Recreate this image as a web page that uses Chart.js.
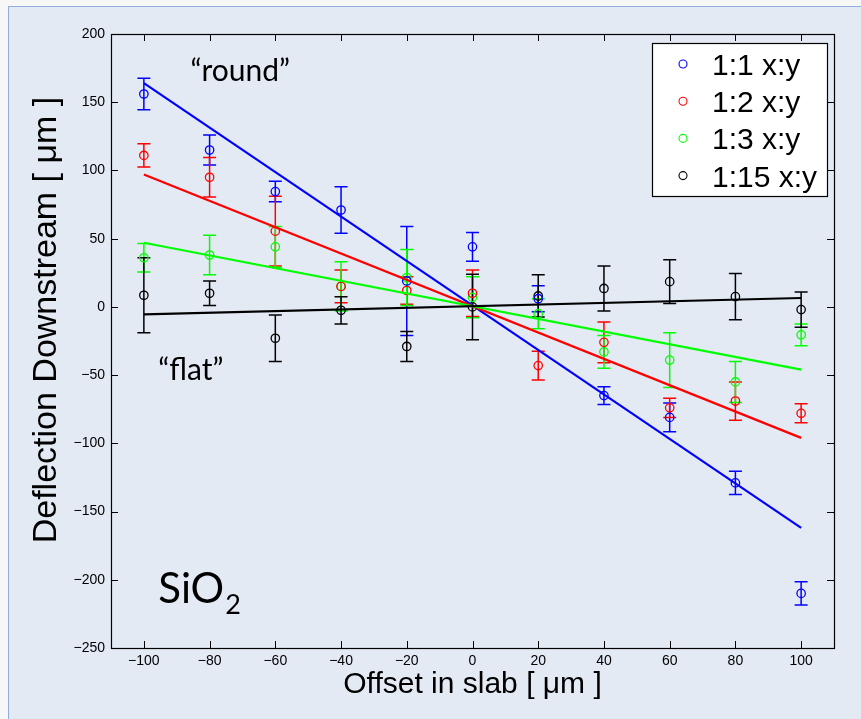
<!DOCTYPE html>
<html>
<head>
<meta charset="utf-8">
<script src="https://cdn.jsdelivr.net/npm/chart.js@4.4.1/dist/chart.umd.min.js"></script>
<style>
  html, body { margin: 0; padding: 0; background: #f7f7f7; overflow: hidden; }
  #panel {
    position: absolute; left: 8px; top: 6px; width: 900px; height: 760px;
    background: #e3eaf4; border: 1.5px solid #8eaedb;
  }
  #wrap { position: absolute; left: 0; top: 0; width: 861px; height: 719px; }
</style>
</head>
<body>
<div id="panel"></div>
<div id="wrap"><canvas id="deflChart" width="861" height="719"></canvas></div>
<script>
// offsets in the slab (µm)
var offsets = [-100, -80, -60, -40, -20, 0, 20, 40, 60, 80, 100];

// measured downstream deflection (µm) and error half-widths, per aspect ratio
var defl11 = [156, 115, 84.5, 71, 19, 44, 6, -65, -81, -129, -210];
var err11  = [11.5, 11, 7.5, 17, 40, 10.5, 9.5, 6.5, 10.5, 8.5, 8.5];
var defl12 = [111, 95, 55.5, 15, 12, 10, -43, -26, -74, -69, -78];
var err12  = [8.5, 14.5, 25.5, 12, 10, 17, 10.5, 15, 7, 14, 7];
var defl13 = [36, 38, 44, 15, 21.5, 7, -5, -33, -39, -55, -20.5];
var err13  = [10.5, 14.5, 15, 18, 20.5, 15, 11, 12, 20, 15, 8];
var defl115 = [8.5, 10, -23, -2.5, -29, 0, 8, 13.5, 18.5, 7.5, -2];
var err115  = [27.5, 9, 17, 10, 11, 24, 15.5, 16.5, 16, 17, 13];

// linear fits, evaluated at the ends of the offset range
var fitX = [-100, 100];
var fit11 = [164, -162];
var fit12 = [97, -96];
var fit13 = [47, -46];
var fit115 = [-5.5, 6.5];

var seriesNames = ['1:1 x:y', '1:2 x:y', '1:3 x:y', '1:15 x:y'];
var seriesColors = ['#0000ff', '#ff0000', '#00ff00', '#000000'];

var xTicks = [-100, -80, -60, -40, -20, 0, 20, 40, 60, 80, 100];
var yTicks = [-250, -200, -150, -100, -50, 0, 50, 100, 150, 200];
var yTitle = 'Deflection Downstream [ \u03BCm ]';

function pts(xs, ys) {
    return xs.map(function (x, i) { return { x: x, y: ys[i] }; });
}

function fitLine(ys, color) {
    return {
        type: 'line',
        data: pts(fitX, ys),
        borderColor: color,
        borderWidth: 2.2,
        pointRadius: 0,
        showLine: true,
        fill: false
    };
}

function markers(label, ys, errs, color) {
    return {
        type: 'scatter',
        label: label,
        data: pts(offsets, ys),
        errors: errs,
        borderColor: color,
        backgroundColor: 'rgba(0,0,0,0)',
        pointStyle: 'circle',
        pointRadius: 4.2,
        pointBorderWidth: 1.3
    };
}

function minusSign(v) {
    return String(v).replace('-', '\u2212');
}

// vertical error bars with caps, drawn underneath the markers
var errorBars = {
    id: 'errorBars',
    beforeDatasetsDraw: function (chart) {
        var ctx = chart.ctx, xs = chart.scales.x, ys = chart.scales.y;
        var cap = 6.5;
        ctx.save();
        ctx.lineWidth = 1.5;
        chart.data.datasets.forEach(function (ds) {
            if (!ds.errors) return;
            ctx.strokeStyle = ds.borderColor;
            ds.data.forEach(function (p, i) {
                var px = xs.getPixelForValue(p.x);
                var top = ys.getPixelForValue(p.y + ds.errors[i]);
                var bot = ys.getPixelForValue(p.y - ds.errors[i]);
                ctx.beginPath();
                ctx.moveTo(px, top); ctx.lineTo(px, bot);
                ctx.moveTo(px - cap, top); ctx.lineTo(px + cap, top);
                ctx.moveTo(px - cap, bot); ctx.lineTo(px + cap, bot);
                ctx.stroke();
            });
        });
        ctx.restore();
    }
};

// axes box with inward ticks, y label, legend box and text notes
var frame = {
    id: 'frame',
    afterDraw: function (chart) {
        var ctx = chart.ctx, a = chart.chartArea;
        var xs = chart.scales.x, ys = chart.scales.y;
        var tl = 7;
        ctx.save();
        ctx.strokeStyle = '#000';
        ctx.lineWidth = 1.2;
        ctx.strokeRect(a.left + 0.5, a.top + 0.5, a.right - a.left, a.bottom - a.top);

        ctx.lineWidth = 1;
        ctx.beginPath();
        xTicks.forEach(function (v) {
            var px = Math.round(xs.getPixelForValue(v)) + 0.5;
            ctx.moveTo(px, a.bottom); ctx.lineTo(px, a.bottom - tl);
            ctx.moveTo(px, a.top); ctx.lineTo(px, a.top + tl);
        });
        yTicks.forEach(function (v) {
            var py = Math.round(ys.getPixelForValue(v)) + 0.5;
            ctx.moveTo(a.left, py); ctx.lineTo(a.left + tl, py);
            ctx.moveTo(a.right, py); ctx.lineTo(a.right - tl, py);
        });
        ctx.stroke();

        // y axis label, rotated
        ctx.save();
        ctx.translate(56, 320);
        ctx.rotate(-Math.PI / 2);
        ctx.fillStyle = '#000';
        ctx.font = '34px "Liberation Sans", Arial, sans-serif';
        ctx.textAlign = 'center';
        ctx.textBaseline = 'alphabetic';
        ctx.fillText(yTitle, 0, 0);
        ctx.restore();

        // legend
        var lx = a.right - 182, ly = a.top + 9, lw = 175, lh = 153;
        ctx.fillStyle = '#ffffff';
        ctx.fillRect(lx, ly, lw, lh);
        ctx.strokeStyle = '#000';
        ctx.lineWidth = 1.2;
        ctx.strokeRect(lx + 0.5, ly + 0.5, lw, lh);
        ctx.font = '30px "Liberation Sans", Arial, sans-serif';
        ctx.textAlign = 'left';
        ctx.textBaseline = 'alphabetic';
        seriesNames.forEach(function (name, i) {
            var rowY = ly + 21 + i * 37.2;
            ctx.strokeStyle = seriesColors[i];
            ctx.lineWidth = 1.1;
            ctx.beginPath();
            ctx.arc(lx + 31, rowY, 4, 0, Math.PI * 2);
            ctx.stroke();
            ctx.fillStyle = '#000';
            ctx.fillText(name, lx + 60, rowY + 11);
        });

        // notes on the plot
        ctx.fillStyle = '#000';
        ctx.font = '30px Lato, "Open Sans", sans-serif';
        ctx.fillText('\u201Cround\u201D', xs.getPixelForValue(-85.8), ys.getPixelForValue(165.6));
        ctx.fillText('\u201Cflat\u201D', xs.getPixelForValue(-95.6), ys.getPixelForValue(-53.6));
        var sx = xs.getPixelForValue(-95.6), sy = ys.getPixelForValue(-217);
        ctx.font = '42px Lato, "Open Sans", sans-serif';
        ctx.fillText('SiO', sx, sy);
        var w = ctx.measureText('SiO').width;
        ctx.font = '27px Lato, "Open Sans", sans-serif';
        ctx.fillText('2', sx + w + 1, sy + 11);
        ctx.restore();
    }
};

Chart.defaults.color = '#000';
Chart.defaults.font.family = '"Liberation Sans", Arial, sans-serif';

new Chart(document.getElementById('deflChart'), {
    type: 'scatter',
    data: {
        datasets: [
            fitLine(fit115, seriesColors[3]),
            fitLine(fit13, seriesColors[2]),
            fitLine(fit12, seriesColors[1]),
            fitLine(fit11, seriesColors[0]),
            markers(seriesNames[0], defl11, err11, seriesColors[0]),
            markers(seriesNames[1], defl12, err12, seriesColors[1]),
            markers(seriesNames[2], defl13, err13, seriesColors[2]),
            markers(seriesNames[3], defl115, err115, seriesColors[3])
        ]
    },
    options: {
        responsive: false,
        animation: false,
        devicePixelRatio: 1,
        layout: { padding: { left: 0, top: 34, right: 27, bottom: 0 } },
        plugins: {
            legend: { display: false },
            tooltip: { enabled: false }
        },
        scales: {
            x: {
                type: 'linear',
                min: -110,
                max: 110,
                grid: { display: false, drawTicks: false, tickLength: 0 },
                border: { display: false },
                afterBuildTicks: function (s) {
                    s.ticks = xTicks.map(function (v) { return { value: v }; });
                },
                afterFit: function (s) { s.height = 71; },
                ticks: {
                    padding: 5,
                    maxRotation: 0,
                    font: { size: 14 },
                    callback: minusSign
                },
                title: {
                    display: true,
                    text: 'Offset in slab [ \u03BCm ]',
                    font: { size: 30 },
                    padding: { top: 0, bottom: 16 }
                }
            },
            y: {
                type: 'linear',
                min: -250,
                max: 200,
                grid: { display: false, drawTicks: false, tickLength: 0 },
                border: { display: false },
                afterBuildTicks: function (s) {
                    s.ticks = yTicks.map(function (v) { return { value: v }; });
                },
                afterFit: function (s) { s.width = 111; },
                ticks: {
                    padding: 6,
                    font: { size: 14 },
                    callback: minusSign
                }
            }
        }
    },
    plugins: [errorBars, frame]
});
</script>
</body>
</html>
